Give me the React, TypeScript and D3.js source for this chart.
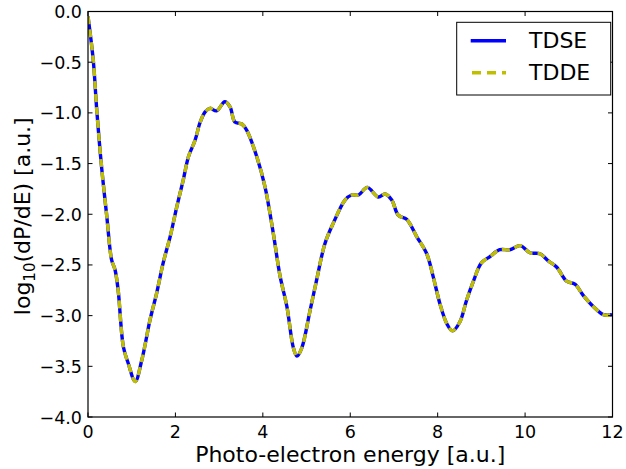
import React from "react";
import * as d3 from "d3";

const energy = [
  0.0, 0.12, 0.2, 0.31, 0.43, 0.54, 0.62, 0.69, 0.81, 0.92, 1.08, 1.23, 1.42, 1.57, 1.72, 1.88,
  2.03, 2.18, 2.3, 2.45, 2.56, 2.68, 2.79, 2.94, 3.13, 3.25, 3.36, 3.52, 3.63, 3.86, 4.05, 4.24,
  4.39, 4.55, 4.7, 4.78, 4.89, 5.08, 5.23, 5.42, 5.61, 5.88, 6.03, 6.19, 6.39, 6.64, 6.8, 6.95,
  7.1, 7.29, 7.52, 7.75, 7.9, 8.05, 8.21, 8.34, 8.51, 8.66, 8.81, 9.0, 9.19, 9.42, 9.65, 9.89,
  10.11, 10.34, 10.53, 10.72, 10.95, 11.14, 11.33, 11.56, 11.79, 11.98, 12.0,
];
const tdse = [
  -0.05, -0.48, -0.97, -1.53, -2.02, -2.45, -2.55, -2.75, -3.31, -3.47, -3.65, -3.44, -3.04, -2.78, -2.48, -2.22,
  -1.93, -1.66, -1.43, -1.27, -1.1, -0.99, -0.955, -0.98, -0.89, -0.94, -1.09, -1.11, -1.17, -1.43, -1.73, -2.19,
  -2.6, -2.91, -3.32, -3.4, -3.32, -2.95, -2.65, -2.29, -2.09, -1.86, -1.81, -1.81, -1.735, -1.83, -1.8, -1.86,
  -2.01, -2.05, -2.22, -2.39, -2.62, -2.88, -3.08, -3.15, -3.06, -2.85, -2.67, -2.48, -2.42, -2.35, -2.35, -2.31,
  -2.38, -2.39, -2.46, -2.52, -2.66, -2.69, -2.8, -2.91, -2.99, -2.99, -2.98,
];
const tdde = tdse.slice();

const xTicks = [0, 2, 4, 6, 8, 10, 12];
const yTicks = [0, -0.5, -1, -1.5, -2, -2.5, -3, -3.5, -4];
const seriesNames = ["TDSE", "TDDE"];

const W = 626, H = 469;
const L = 88, R = 612.5, T = 11.5, B = 417;
const FONT = "DejaVu Sans, sans-serif";

export default function App() {
  const x = d3.scaleLinear().domain([0, 12]).range([L, R]);
  const y = d3.scaleLinear().domain([-4, 0]).range([B, T]);
  const line = d3
    .line<number>()
    .x((_, i) => x(energy[i]))
    .y((d) => y(d))
    .curve(d3.curveCatmullRom.alpha(0.5));
  const tl = 4.5;
  return (
    <svg width={W} height={H} style={{ position: "absolute", left: 0, top: 0, background: "#fff" }} fontFamily={FONT}>
      <rect x={0} y={0} width={W} height={H} fill="#fff" />
      <defs>
        <clipPath id="plotclip">
          <rect x={L} y={T} width={R - L} height={B - T} />
        </clipPath>
      </defs>
      <g clipPath="url(#plotclip)">
        <path d={line(tdse) || ""} fill="none" stroke="#0000ff" strokeWidth={3.4} strokeLinejoin="round" />
        <path d={line(tdde) || ""} fill="none" stroke="#bfbf00" strokeWidth={3.4} strokeDasharray="8,5" />
      </g>
      <rect x={L} y={T} width={R - L} height={B - T} fill="none" stroke="#000" strokeWidth={1.2} />
      {xTicks.map((t) => (
        <g key={"x" + t}>
          <line x1={x(t)} x2={x(t)} y1={B} y2={B - tl} stroke="#000" />
          <line x1={x(t)} x2={x(t)} y1={T} y2={T + tl} stroke="#000" />
          <text x={x(t)} y={B + 20.5} fontSize={17.5} textAnchor="middle">
            {String(t)}
          </text>
        </g>
      ))}
      {yTicks.map((t) => (
        <g key={"y" + t}>
          <line x1={L} x2={L + tl} y1={y(t)} y2={y(t)} stroke="#000" />
          <line x1={R} x2={R - tl} y1={y(t)} y2={y(t)} stroke="#000" />
          <text x={L - 6} y={y(t) + 6.5} fontSize={17.5} textAnchor="end">
            {t === 0 ? "0.0" : "\u2212" + Math.abs(t).toFixed(1)}
          </text>
        </g>
      ))}
      <text x={(L + R) / 2} y={462} fontSize={22} textAnchor="middle">
        Photo-electron energy [a.u.]
      </text>
      <text transform={`translate(30,${(T + B) / 2 + 2}) rotate(-90)`} fontSize={22} textAnchor="middle">
        log<tspan fontSize={15} dy={5}>10</tspan>
        <tspan dy={-5}>(dP/dE) [a.u.]</tspan>
      </text>
      <rect x={456.7} y={22.3} width={154} height={72.7} fill="#fff" stroke="#000" strokeWidth={1} />
      <line x1={470.7} x2={506} y1={40.7} y2={40.7} stroke="#0000ff" strokeWidth={3.4} />
      <line x1={472} x2={506} y1={72.7} y2={72.7} stroke="#bfbf00" strokeWidth={3.4} strokeDasharray="9,6" />
      <text x={529} y={48} fontSize={22}>{seriesNames[0]}</text>
      <text x={529} y={80} fontSize={22}>{seriesNames[1]}</text>
    </svg>
  );
}
